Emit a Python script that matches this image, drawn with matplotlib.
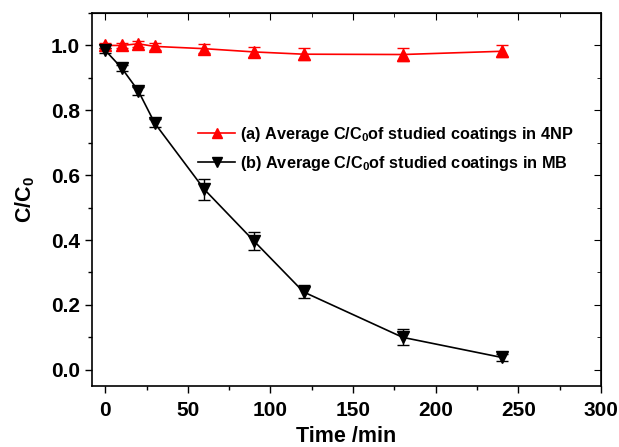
import matplotlib
matplotlib.use("Agg")
import matplotlib.pyplot as plt
from matplotlib.ticker import MultipleLocator
from matplotlib.lines import Line2D

plt.rcParams['font.family'] = ['Liberation Sans', 'DejaVu Sans']
plt.rcParams['font.weight'] = 'bold'
plt.rcParams['mathtext.fontset'] = 'custom'
plt.rcParams['mathtext.rm'] = 'Liberation Sans:bold'
plt.rcParams['mathtext.it'] = 'Liberation Sans:bold'
plt.rcParams['mathtext.bf'] = 'Liberation Sans:bold'

time = [0, 10, 20, 30, 60, 90, 120, 180, 240]
c_4np = [1.0, 1.0, 1.005, 0.997, 0.99, 0.98, 0.973, 0.972, 0.982]
err_4np = [0.008, 0.008, 0.01, 0.012, 0.014, 0.016, 0.018, 0.02, 0.018]
c_mb = [0.985, 0.93, 0.86, 0.76, 0.556, 0.397, 0.24, 0.10, 0.038]
err_mb = [0.008, 0.01, 0.012, 0.012, 0.033, 0.028, 0.02, 0.025, 0.01]
labels = ['(a) Average C/C$_0$of studied coatings in 4NP',
          '(b) Average C/C$_0$of studied coatings in MB']

fig = plt.figure(figsize=(6.19, 4.47), dpi=100)
ax = fig.add_axes([92/619, 1-386/447, (601-92)/619, (386-13)/447])

ax.errorbar(time, c_4np, yerr=err_4np, color='red', marker='^', markersize=8,
            lw=1.2, capsize=4, elinewidth=1, capthick=1)
ax.errorbar(time, c_mb, yerr=err_mb, color='black', marker='v', markersize=8,
            lw=1.2, capsize=4, elinewidth=1, capthick=1)

ax.set_xlim(-8, 300)
ax.set_ylim(-0.05, 1.1)
ax.xaxis.set_major_locator(MultipleLocator(50))
ax.xaxis.set_minor_locator(MultipleLocator(25))
ax.yaxis.set_major_locator(MultipleLocator(0.2))
ax.yaxis.set_minor_locator(MultipleLocator(0.1))
ax.tick_params(which='both', direction='out', top=False, right=False, width=1)
ax.tick_params(which='major', length=5, labelsize=15)
ax.tick_params(axis='x', which='major', pad=6)
ax.tick_params(which='minor', length=3)
ax2 = ax.secondary_xaxis('top')
ax2.xaxis.set_major_locator(MultipleLocator(50))
ax2.xaxis.set_minor_locator(MultipleLocator(25))
ax2.tick_params(which='both', direction='in', labeltop=False)
ax2.tick_params(which='major', length=5)
ax2.tick_params(which='minor', length=3)
ay2 = ax.secondary_yaxis('right')
ay2.yaxis.set_major_locator(MultipleLocator(0.2))
ay2.yaxis.set_minor_locator(MultipleLocator(0.1))
ay2.tick_params(which='both', direction='in', labelright=False)
ay2.tick_params(which='major', length=5)
ay2.tick_params(which='minor', length=3)
for s in ax.spines.values():
    s.set_linewidth(1.2)

for lbl in ax.get_xticklabels() + ax.get_yticklabels():
    lbl.set_fontweight('bold')

ax.set_xlabel('Time /min', fontsize=15.5, fontweight='bold', labelpad=4)
ax.set_ylabel('C/C$_0$', fontsize=15.5, fontweight='bold', labelpad=10)

handles = [Line2D([], [], color='red', marker='^', markersize=7, lw=1.2),
           Line2D([], [], color='black', marker='v', markersize=7, lw=1.2)]
leg = fig.legend(handles, labels, loc='upper left',
                 bbox_to_anchor=(198/619, 1-125/447), bbox_transform=fig.transFigure,
                 frameon=False, borderpad=0, borderaxespad=0,
                 prop={'weight': 'bold', 'size': 11.7}, handlelength=2.3,
                 handletextpad=0.3, labelspacing=0.6)

fig.savefig('out.png', dpi=100)
